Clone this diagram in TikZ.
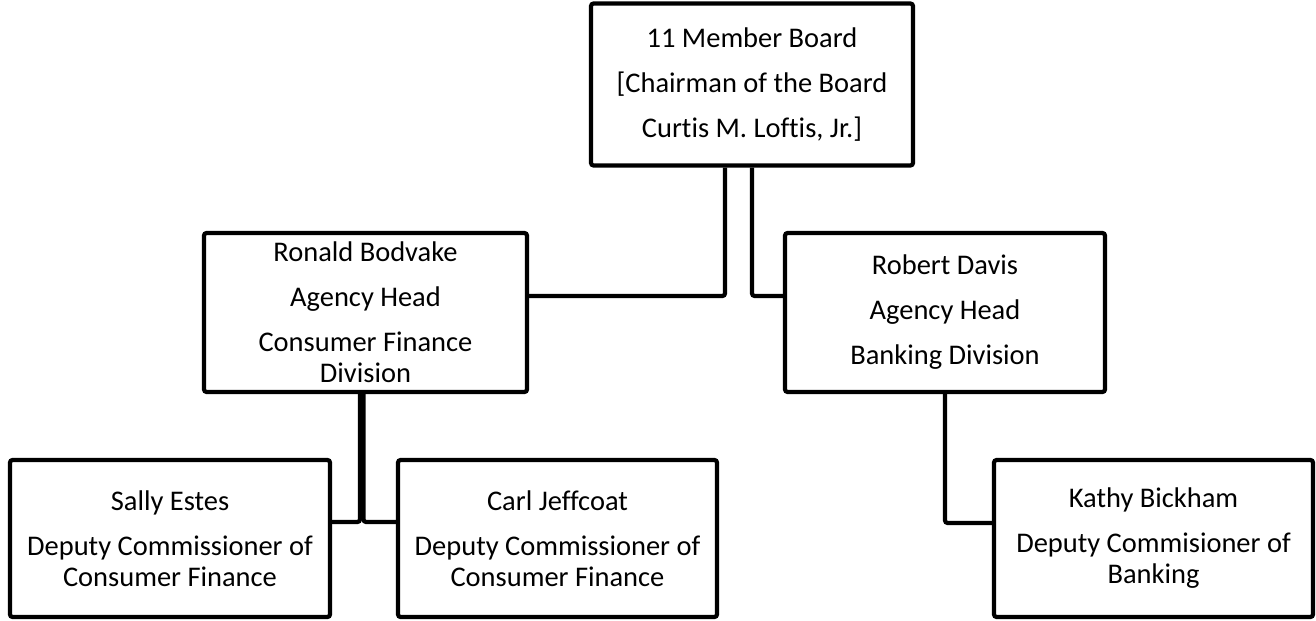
\documentclass[tikz,border=0pt]{standalone}
\usepackage{fontspec}
\setmainfont{Carlito}[Ligatures=CommonOff]
\usepackage{tikz}
\usetikzlibrary{positioning, calc}
\tikzset{
  office/.style={rectangle, rounded corners=1.5pt, draw=black, line width=2.4pt, fill=white, align=center, inner sep=0pt, font=\fontsize{16.2}{17.6}\selectfont},
  link/.style={line width=2.4pt, rounded corners=1.5pt, color=black}
}

\begin{document}
\begin{tikzpicture}
  \useasboundingbox (0,0) rectangle (26.32,-12.42);
  % Board at the top
  \node (board) [office, minimum width=6.44cm, minimum height=3.24cm] at (15.04,-1.69) {11 Member Board\\[8pt][Chairman of the Board\\[8pt]Curtis M. Loftis, Jr.]};
  % Agency heads
  \node (ronald) [office, minimum width=6.46cm, minimum height=3.18cm] at (7.31,-6.25) {Ronald Bodvake\\[8pt]Agency Head\\[8pt]Consumer Finance\\Division};
  \node (robert) [office, minimum width=6.40cm, minimum height=3.18cm] at (18.90,-6.25) {Robert Davis\\[8pt]Agency Head\\[8pt]Banking Division};
  % Deputy commissioners
  \node (sally) [office, minimum width=6.40cm, minimum height=3.14cm] at (3.40,-10.77) {Sally Estes\\[8pt]Deputy Commissioner of\\Consumer Finance};
  \node (carl) [office, minimum width=6.38cm, minimum height=3.14cm] at (11.15,-10.77) {Carl Jeffcoat\\[8pt]Deputy Commissioner of\\Consumer Finance};
  \node (kathy) [office, minimum width=6.38cm, minimum height=3.14cm] at (23.07,-10.77) {Kathy Bickham\\[8pt]Deputy Commisioner of\\Banking};
  % Connectors
  \draw [link] ([xshift=-0.54cm]board.south) |- ([yshift=0.33cm]ronald.east);
  \draw [link] (board.south) |- ([yshift=0.33cm]robert.west);
  \draw [link] ([xshift=-0.11cm]ronald.south) |- ([yshift=0.33cm]sally.east);
  \draw [link] ([xshift=-0.04cm]ronald.south) |- ([yshift=0.33cm]carl.west);
  \draw [link] (robert.south) |- ([yshift=0.31cm]kathy.west);
\end{tikzpicture}
\end{document}
